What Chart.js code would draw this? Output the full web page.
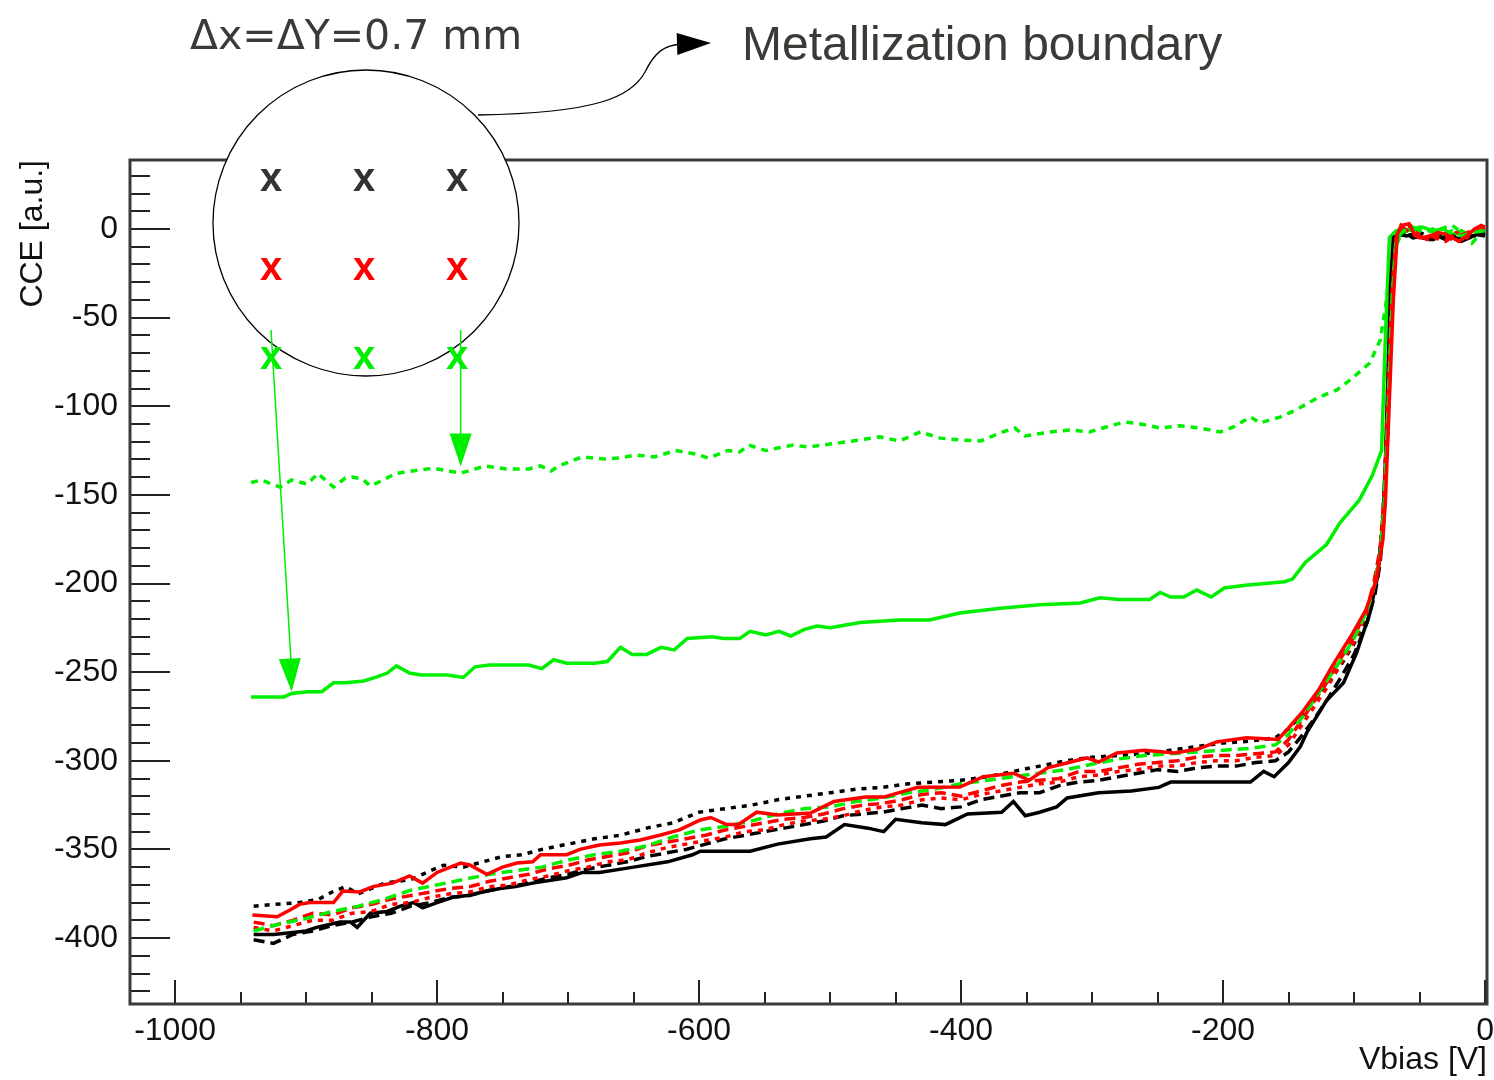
<!DOCTYPE html>
<html>
<head>
<meta charset="utf-8">
<script src="https://cdn.jsdelivr.net/npm/chart.js@4.4.0/dist/chart.umd.min.js"></script>
<style>
  html, body { margin: 0; padding: 0; background: #fff; }
  canvas { display: block; }
</style>
</head>
<body>
<canvas id="cce" width="1494" height="1080"></canvas>
<script>
// axis ticks (labels)
const xTickValues = [-1000, -800, -600, -400, -200, 0];
const yTickValues = [-400, -350, -300, -250, -200, -150, -100, -50, 0];

// [Vbias, CCE] points
const greenDotted = [[-942,-143],[-934,-141.6],[-920,-145.6],[-911,-141.6],[-899,-143.9],[-891,-138],[-879,-145.6],[-870,-140.5],[-865,-140],[-857,-141],[-851,-145],[-841,-141.6],[-832,-138],[-824,-137],[-803,-135],[-795,-136],[-782,-137.7],[-771,-135.4],[-763,-133.7],[-747,-135.4],[-730,-135.4],[-721,-133.7],[-713,-136.5],[-707,-133.7],[-698,-131],[-689,-128.6],[-672,-129.8],[-660,-129.2],[-648,-127.5],[-634,-128.6],[-618,-125],[-602,-127],[-593,-129.2],[-578,-125],[-569,-125.8],[-562,-121.9],[-549,-125],[-540,-123.6],[-528,-121.9],[-517,-123],[-500,-121.3],[-477,-119],[-462,-117.3],[-447,-119.6],[-431,-114.5],[-416,-118],[-401,-119],[-385,-119.6],[-370,-115],[-359,-112.3],[-351,-116.8],[-332,-114.5],[-317,-113.4],[-302,-114.5],[-286,-111],[-275,-108.9],[-263,-110],[-248,-112.3],[-233,-111],[-218,-112.3],[-202,-114.5],[-192,-111.7],[-179,-106],[-172,-109.4],[-156,-106],[-144,-102],[-128,-95.3],[-113,-90.8],[-101,-84],[-88,-75.6],[-80,-62.6],[-76,-44],[-73,-27],[-70,-13.5],[-65,-4.5],[-59,-0.5],[-50,1],[-40,-1.7],[-30,1],[-25,2],[-15,-3.4],[-10,-8],[-5,-4],[0,-1.7]];

const greenSolid = [[-942,-264],[-917,-264],[-911,-262],[-899,-261],[-888,-261],[-879,-256],[-870,-256],[-856,-255],[-847,-253],[-838,-250.5],[-831,-246.5],[-821,-250.5],[-812,-251.6],[-792,-251.6],[-780,-253],[-771,-247],[-760,-246],[-730,-246],[-720,-248],[-711,-243],[-701,-245],[-680,-245],[-670,-244],[-660,-236],[-651,-240],[-640,-240],[-629,-236],[-619,-237.5],[-609,-231],[-590,-230],[-581,-231],[-569,-231],[-561,-227],[-549,-229],[-539,-227],[-530,-229.6],[-520,-226],[-510,-224],[-500,-225],[-477,-222],[-447,-220.6],[-424,-220.6],[-401,-216.6],[-370,-214],[-340,-212],[-309,-211],[-294,-208],[-279,-209],[-256,-209],[-248,-205],[-240,-207.6],[-230,-207.6],[-220,-203.7],[-209,-207.6],[-199,-202.5],[-183,-201],[-153,-199],[-147,-197.5],[-137,-188],[-121,-178],[-111,-166],[-96,-153],[-86,-139],[-79,-125],[-76,-60],[-73,-5],[-68,-1],[-62,0],[-55,-1],[-48,1],[-40,-1],[-32,0],[-25,-3],[-18,-1],[-10,-4],[-4,-2],[0,0]];

const greenDashed = [[-940,-396],[-920,-392],[-900,-389],[-880,-385],[-860,-382],[-840,-378],[-820,-373],[-800,-370],[-780,-367],[-760,-364],[-740,-362],[-720,-360],[-700,-356],[-680,-353],[-660,-351],[-640,-348],[-620,-343],[-600,-339],[-580,-337],[-560,-334],[-540,-330],[-520,-327],[-500,-326],[-480,-323],[-460,-321],[-440,-318],[-420,-316],[-400,-313],[-380,-311],[-360,-309],[-340,-307],[-320,-305],[-300,-302],[-280,-299],[-260,-297],[-240,-296],[-220,-295],[-200,-294],[-180,-293],[-160,-291],[-150,-285],[-140,-276],[-130,-265],[-120,-254],[-110,-243],[-100,-231],[-90,-215],[-84,-200],[-80,-183],[-77,-155],[-74,-100],[-71,-40],[-68,-6],[-62,-1],[-55,1],[-47,-2],[-40,0],[-32,-3],[-25,-1],[-18,-4],[-10,-2],[0,-1]];

const redSolid = [[-941,-387],[-922,-388],[-912,-384],[-905,-381],[-897,-380],[-879,-380],[-872,-373.5],[-859,-374],[-849,-371],[-834,-369],[-821,-365],[-811,-369],[-800,-363],[-782,-357.7],[-775,-358.8],[-762,-364],[-750,-360],[-739,-357.7],[-727,-357],[-721,-353],[-701,-353],[-691,-350],[-676,-347.5],[-660,-346.4],[-645,-344.7],[-630,-342],[-615,-339],[-599,-333.4],[-591,-332],[-579,-336],[-570,-336],[-556,-329],[-540,-330.6],[-515,-329.5],[-497,-323],[-473,-320.5],[-459,-320.5],[-433,-315],[-401,-314.8],[-383,-309],[-360,-307],[-348,-311],[-334,-304],[-304,-298.4],[-295,-300.7],[-281,-295.6],[-260,-294],[-237,-295.6],[-219,-293.4],[-205,-289.4],[-182,-287],[-158,-288],[-150,-281.5],[-140,-273],[-127,-260],[-117,-247],[-101,-228],[-91,-215],[-83,-198],[-78,-175.5],[-76,-153],[-73,-96],[-70,-40],[-67,-3],[-64,2],[-58,3],[-54,-3],[-48,-5],[-42,-4],[-36,-2],[-30,-3],[-25,-5],[-20,-7],[-14,-4],[-8,0],[-3,2],[0,1]];

const redDashed = [[-940,-391],[-925,-393],[-910,-390],[-895,-386],[-880,-387],[-865,-383],[-850,-381],[-835,-378],[-820,-376],[-805,-374],[-790,-372],[-775,-371],[-760,-368],[-745,-366],[-730,-364],[-715,-361],[-700,-359],[-685,-356],[-670,-354],[-655,-352],[-640,-348],[-625,-346],[-610,-344],[-595,-342],[-580,-339],[-565,-337],[-550,-335],[-535,-333],[-520,-332],[-505,-330],[-490,-327],[-475,-325],[-460,-324],[-445,-322],[-430,-319],[-415,-318],[-400,-320],[-385,-317],[-370,-314],[-355,-312],[-340,-311],[-325,-310],[-310,-306],[-295,-306],[-280,-304],[-265,-302],[-250,-301],[-235,-300],[-220,-298],[-205,-297],[-190,-297],[-175,-296],[-160,-295],[-150,-288],[-140,-277],[-130,-266],[-120,-255],[-110,-242],[-100,-230],[-90,-214],[-85,-200],[-80,-180],[-77,-150],[-74,-95],[-71,-35],[-68,-5],[-64,2],[-58,-2],[-50,-5],[-44,-3],[-38,-5],[-30,-7],[-24,-4],[-16,-3],[-8,0],[0,1]];

const redDotted = [[-940,-394],[-925,-396],[-910,-393],[-895,-390],[-880,-390],[-865,-386],[-850,-385],[-835,-381],[-820,-380],[-805,-377],[-790,-375],[-775,-374],[-760,-371],[-745,-370],[-730,-367],[-715,-365],[-700,-362],[-685,-360],[-670,-357],[-655,-356],[-640,-352],[-625,-349],[-610,-347],[-595,-345],[-580,-343],[-565,-340],[-550,-339],[-535,-336],[-520,-334],[-505,-333],[-490,-331],[-475,-328],[-460,-326],[-445,-325],[-430,-322],[-415,-321],[-400,-322],[-385,-319],[-370,-317],[-355,-315],[-340,-313],[-325,-312],[-310,-309],[-295,-308],[-280,-306],[-265,-305],[-250,-303],[-235,-303],[-220,-301],[-205,-300],[-190,-300],[-175,-298],[-160,-297],[-150,-291],[-140,-280],[-130,-269],[-120,-258],[-110,-245],[-100,-233],[-90,-216],[-85,-203],[-80,-184],[-77,-155],[-74,-100],[-71,-38],[-68,-6],[-63,0],[-57,2],[-50,-3],[-44,-6],[-38,-4],[-30,-5],[-22,-2],[-14,-5],[-6,-1],[0,0]];

const blackUpper = [[-940,-382],[-925,-381],[-905,-380],[-890,-378],[-880,-374],[-870,-371],[-860,-375],[-840,-369],[-820,-367],[-805,-362],[-795,-359],[-780,-360],[-765,-357],[-750,-354],[-735,-353],[-720,-350],[-700,-347],[-680,-344],[-660,-342],[-640,-338],[-620,-335],[-600,-329],[-580,-327],[-560,-325],[-540,-322],[-520,-320],[-500,-318],[-480,-316],[-460,-315],[-440,-313],[-420,-312],[-400,-311],[-380,-309],[-360,-306],[-340,-303],[-320,-300],[-300,-298],[-280,-297],[-260,-296],[-240,-294],[-220,-292],[-200,-290],[-180,-289],[-160,-287],[-150,-282],[-140,-274],[-130,-266],[-120,-256],[-110,-246],[-100,-234],[-90,-218],[-84,-202],[-80,-180],[-77,-150],[-74,-90],[-71,-20],[-68,-3],[-60,-4],[-50,-2],[-40,-5],[-30,-3],[-20,-6],[-10,-4],[0,-3]];

const blackLower = [[-940,-401],[-925,-403],[-910,-398],[-895,-396],[-880,-393],[-865,-391],[-850,-388],[-835,-386],[-820,-382],[-805,-380],[-790,-377],[-775,-376],[-760,-373],[-745,-371],[-730,-369],[-715,-366],[-700,-364],[-685,-361],[-670,-359],[-655,-357],[-640,-354],[-625,-352],[-610,-350],[-595,-347],[-580,-344],[-565,-342],[-550,-340],[-535,-338],[-520,-336],[-505,-334],[-490,-331],[-475,-330],[-460,-329],[-445,-327],[-430,-325],[-415,-327],[-400,-326],[-385,-322],[-370,-320],[-355,-318],[-340,-318],[-325,-314],[-310,-312],[-295,-311],[-280,-309],[-265,-307],[-250,-305],[-235,-306],[-220,-304],[-205,-303],[-190,-303],[-175,-301],[-160,-300],[-150,-295],[-140,-286],[-130,-276],[-120,-265],[-110,-253],[-100,-240],[-90,-222],[-84,-206],[-80,-188],[-77,-160],[-74,-110],[-71,-40],[-68,-5],[-62,-2],[-55,-5],[-48,-4],[-40,-6],[-32,-4],[-24,-6],[-16,-5],[-8,-3],[0,-4]];

const blackSolid = [[-940,-398],[-925,-398],[-912,-397],[-900,-396],[-892,-394],[-874,-391],[-866,-391],[-861,-394],[-851,-386],[-838,-385],[-828,-382],[-818,-380],[-811,-383],[-800,-380],[-788,-377],[-777,-376],[-765,-374],[-752,-372],[-740,-371],[-727,-369],[-701,-366],[-689,-363],[-676,-363],[-650,-360],[-624,-357],[-605,-353],[-599,-351],[-575,-351],[-561,-351],[-540,-347],[-515,-344],[-503,-343],[-489,-336],[-471,-338],[-459,-340],[-450,-333],[-430,-335],[-412,-336],[-395,-330],[-369,-329],[-360,-323],[-351,-331],[-340,-329],[-327,-326],[-319,-321],[-295,-318],[-270,-317],[-249,-315],[-240,-312],[-210,-312],[-179,-312],[-169,-306],[-161,-309],[-150,-301],[-141,-292],[-136,-284],[-121,-266],[-108,-256],[-98,-239],[-88,-217],[-82,-196],[-78,-165],[-76,-130],[-74,-80],[-72,-30],[-70,-5],[-66,-3],[-60,-4],[-54,-3],[-48,-5],[-42,-6],[-36,-4],[-30,-6],[-24,-4],[-18,-7],[-12,-5],[-6,-3],[0,-2]];

const RED = '#ff0000';
const GREEN = '#00ee00';
const BLACK = '#000000';
const DASHED = [11, 6];
const DOTTED = [5, 6];

function series(points, color, dash) {
  return {
    data: points.map(([x, y]) => ({ x, y })),
    borderColor: color,
    borderWidth: 3.5,
    borderDash: dash,
    pointRadius: 0,
    showLine: true,
    fill: false,
    tension: 0
  };
}

// ROOT-style frame with ticks pointing inwards
const frameTicks = {
  id: 'frameTicks',
  afterDatasetsDraw(chart) {
    const { ctx, chartArea: a, scales: { x, y } } = chart;
    ctx.save();
    ctx.strokeStyle = '#222';
    ctx.lineWidth = 2;
    ctx.beginPath();
    for (let v = -1000; v <= 0; v += 50) {
      const px = Math.round(x.getPixelForValue(v));
      const len = v % 200 === 0 ? 24 : 12;
      ctx.moveTo(px, a.bottom);
      ctx.lineTo(px, a.bottom - len);
    }
    for (let v = -430; v <= 30; v += 10) {
      const py = Math.round(y.getPixelForValue(v));
      const len = v % 50 === 0 ? 40 : 20;
      ctx.moveTo(a.left, py);
      ctx.lineTo(a.left + len, py);
    }
    ctx.stroke();
    ctx.lineWidth = 3;
    ctx.strokeStyle = '#3a3a3a';
    ctx.strokeRect(a.left, a.top, a.right - a.left, a.bottom - a.top);
    ctx.restore();
  }
};

function arrowHead(ctx, tx, ty, fx, fy, len, half) {
  const ang = Math.atan2(ty - fy, tx - fx);
  ctx.beginPath();
  ctx.moveTo(tx, ty);
  ctx.lineTo(tx - len * Math.cos(ang) + half * Math.sin(ang), ty - len * Math.sin(ang) - half * Math.cos(ang));
  ctx.lineTo(tx - len * Math.cos(ang) - half * Math.sin(ang), ty - len * Math.sin(ang) + half * Math.cos(ang));
  ctx.closePath();
  ctx.fill();
}

// the sketch on top: pad layout circle, labels and arrows
const sketch = {
  id: 'sketch',
  afterDraw(chart) {
    const { ctx, scales: { x, y } } = chart;
    ctx.save();

    ctx.fillStyle = '#3a3a36';
    ctx.textBaseline = 'alphabetic';
    ctx.font = '41px "DejaVu Sans"';
    ctx.fillText('\u0394x=\u0394Y=0.7 mm', 190, 49);
    ctx.font = '48px "Liberation Sans"';
    ctx.fillText('Metallization boundary', 742, 60);

    // curved pointer to the text
    ctx.strokeStyle = '#000';
    ctx.lineWidth = 1.3;
    ctx.beginPath();
    ctx.moveTo(478, 115);
    ctx.bezierCurveTo(600, 113, 632, 96, 645, 72);
    ctx.bezierCurveTo(655, 52, 664, 45, 682, 44);
    ctx.stroke();
    ctx.fillStyle = '#000';
    arrowHead(ctx, 711, 43, 678, 44, 34, 11);

    // pad circle
    ctx.beginPath();
    ctx.arc(366, 223, 153, 0, Math.PI * 2);
    ctx.fillStyle = '#fff';
    ctx.fill();
    ctx.lineWidth = 1.3;
    ctx.strokeStyle = '#000';
    ctx.stroke();

    // pad markers
    const cols = [271, 364, 457];
    const rows = [[180, '#333333'], [269, RED], [358, GREEN]];
    ctx.font = 'bold 40px "Liberation Sans"';
    ctx.textAlign = 'center';
    ctx.textBaseline = 'middle';
    rows.forEach(([ry, c]) => {
      ctx.fillStyle = c;
      cols.forEach(cx => ctx.fillText('x', cx, ry));
    });

    // green arrows to the curves
    const tip1 = [x.getPixelForValue(-911), y.getPixelForValue(-261)];
    const tip2 = [x.getPixelForValue(-782), y.getPixelForValue(-134)];
    ctx.strokeStyle = GREEN;
    ctx.fillStyle = GREEN;
    ctx.lineWidth = 1.5;
    ctx.beginPath();
    ctx.moveTo(271, 330);
    ctx.lineTo(tip1[0], tip1[1] - 20);
    ctx.moveTo(tip2[0], 330);
    ctx.lineTo(tip2[0], tip2[1] - 20);
    ctx.stroke();
    arrowHead(ctx, tip1[0], tip1[1], 271, 330, 33, 11);
    arrowHead(ctx, tip2[0], tip2[1], tip2[0], 330, 33, 11);

    ctx.restore();
  }
};

const labelFont = { family: '"Liberation Sans", Arial, sans-serif', size: 32 };

new Chart(document.getElementById('cce').getContext('2d'), {
  type: 'scatter',
  data: {
    datasets: [
      series(redSolid, RED, []),
      series(greenDashed, GREEN, DASHED),
      series(redDashed, RED, DASHED),
      series(redDotted, RED, DOTTED),
      series(blackUpper, BLACK, DOTTED),
      series(blackLower, BLACK, DASHED),
      series(blackSolid, BLACK, []),
      series(greenSolid, GREEN, []),
      series(greenDotted, GREEN, [7, 6])
    ]
  },
  options: {
    responsive: false,
    animation: false,
    layout: { padding: { top: 160, right: 7, left: 0, bottom: 0 } },
    plugins: { legend: { display: false }, tooltip: { enabled: false } },
    scales: {
      x: {
        type: 'linear',
        min: -1034.4,
        max: 1.5,
        grid: { display: false, drawTicks: false },
        border: { display: false },
        afterBuildTicks: s => { s.ticks = xTickValues.map(v => ({ value: v })); },
        afterFit: s => { s.height = 76; s.paddingLeft = 0; s.paddingRight = 0; },
        ticks: {
          autoSkip: false, maxRotation: 0, padding: 8,
          color: '#111', font: labelFont,
          callback: v => String(v)
        },
        title: {
          display: true, text: 'Vbias [V]', align: 'end',
          color: '#111', font: labelFont, padding: { top: 0, bottom: 1 }
        }
      },
      y: {
        type: 'linear',
        min: -437.2,
        max: 38.9,
        grid: { display: false, drawTicks: false },
        border: { display: false },
        afterBuildTicks: s => { s.ticks = yTickValues.map(v => ({ value: v })); },
        afterFit: s => { s.width = 130; s.paddingTop = 0; s.paddingBottom = 0; },
        ticks: {
          autoSkip: false, padding: 12,
          color: '#111', font: labelFont,
          callback: v => String(v)
        },
        title: {
          display: true, text: 'CCE [a.u.]', align: 'end',
          color: '#111', font: labelFont, padding: { top: 14, bottom: 0 }
        }
      }
    }
  },
  plugins: [frameTicks, sketch]
});
</script>
</body>
</html>
